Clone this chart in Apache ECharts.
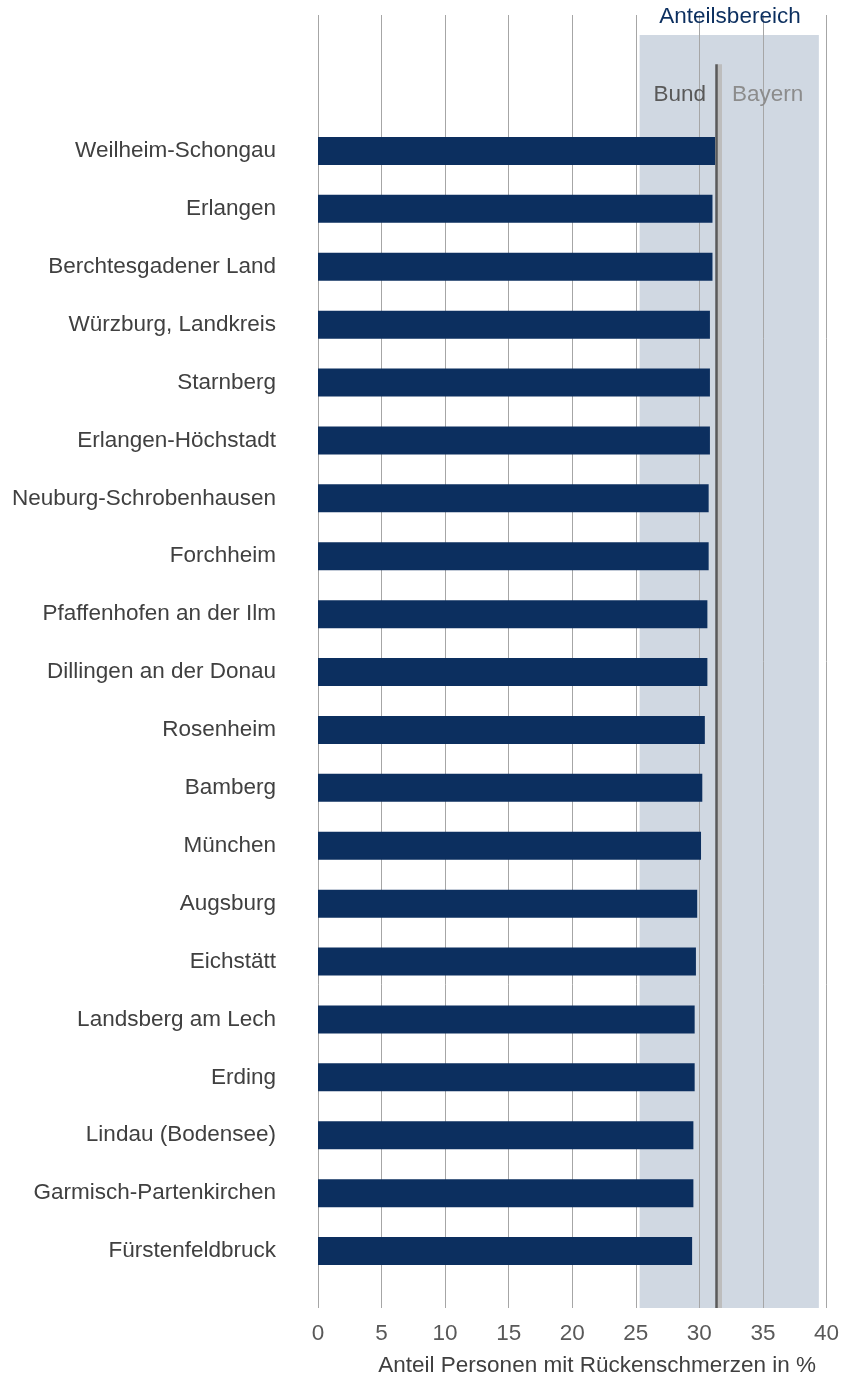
<!DOCTYPE html>
<html>
<head>
<meta charset="utf-8">
<script src="https://cdn.jsdelivr.net/npm/echarts@6/dist/echarts.min.js"></script>
<style>html,body{margin:0;padding:0;background:#fff}#c{width:842px;height:1379px}</style>
</head>
<body>
<div id="c"></div>
<script>
const categories = ["Weilheim-Schongau","Erlangen","Berchtesgadener Land","Würzburg, Landkreis","Starnberg","Erlangen-Höchstadt","Neuburg-Schrobenhausen","Forchheim","Pfaffenhofen an der Ilm","Dillingen an der Donau","Rosenheim","Bamberg","München","Augsburg","Eichstätt","Landsberg am Lech","Erding","Lindau (Bodensee)","Garmisch-Partenkirchen","Fürstenfeldbruck"];
const values = [31.2,31.0,31.0,30.8,30.8,30.8,30.7,30.7,30.6,30.6,30.4,30.2,30.1,29.8,29.7,29.6,29.6,29.5,29.5,29.4];
const rangeBand = [25.3, 39.4];
const bundValue = 31.3;
const bayernValue = 31.6;
const xTicks = [0,5,10,15,20,25,30,35,40];
const axisTitle = "Anteil Personen mit Rückenschmerzen in %";
const bandTitle = "Anteilsbereich";

const FONT = "Liberation Sans, Arial, sans-serif";
const FS = 22.5;
const chart = echarts.init(document.getElementById('c'), null, {renderer:'canvas'});
chart.setOption({
  animation:false,
  backgroundColor:'#fff',
  grid:[
    {left:318, right:15, top:15, bottom:71},
    {left:318, right:15, top:122, bottom:99}
  ],
  xAxis:[
    {gridIndex:0, type:'value', min:xTicks[0], max:xTicks[xTicks.length-1], interval:5, z:3,
     axisLine:{show:false}, axisTick:{show:false},
     axisLabel:{fontFamily:FONT, fontSize:FS, color:'#595959', margin:14},
     splitLine:{show:true, lineStyle:{color:'#a6a6a6', width:1}}},
    {gridIndex:1, type:'value', min:xTicks[0], max:xTicks[xTicks.length-1], show:false}
  ],
  yAxis:[
    {gridIndex:0, type:'value', min:0, max:100, show:false},
    {gridIndex:1, type:'category', data:categories, inverse:true,
     axisLine:{show:false}, axisTick:{show:false},
     axisLabel:{fontFamily:FONT, fontSize:FS, color:'#404040', margin:42, padding:[5,0,0,0]},
     splitLine:{show:false}}
  ],
  series:[
    {type:'line', xAxisIndex:0, yAxisIndex:0, data:[], silent:true, z:1,
     markArea:{silent:true, itemStyle:{color:'#d0d8e2'},
       data:[[{xAxis:rangeBand[0], yAxis:0},{xAxis:rangeBand[1], yAxis:98.45}]]}
    },
    {type:'line', xAxisIndex:0, yAxisIndex:0, data:[], silent:true, z:6,
     markLine:{silent:true, symbol:'none', label:{show:false},
       data:[
         [{xAxis:bayernValue, yAxis:0, lineStyle:{color:'#bdbdbd', width:5, type:'solid'}},{xAxis:bayernValue, yAxis:96.2}],
         [{xAxis:bundValue, yAxis:0, lineStyle:{color:'#5a5a5a', width:2.5, type:'solid'}},{xAxis:bundValue, yAxis:96.2}]
       ]}
    },
    {type:'bar', xAxisIndex:1, yAxisIndex:1, data:values, barWidth:28, z:5,
     itemStyle:{color:'#0c2f5f'}}
  ],
  graphic:[
    {type:'text', z:10, x:730, y:17, style:{text:bandTitle, fill:'#0c2f5f', font:FS+'px '+FONT, textAlign:'center', textVerticalAlign:'middle'}},
    {type:'text', z:10, x:706, y:95, style:{text:'Bund', fill:'#595959', font:FS+'px '+FONT, textAlign:'right', textVerticalAlign:'middle'}},
    {type:'text', z:10, x:732, y:95, style:{text:'Bayern', fill:'#8c8c8c', font:FS+'px '+FONT, textAlign:'left', textVerticalAlign:'middle'}},
    {type:'text', z:10, x:816, y:1366, style:{text:axisTitle, fill:'#404040', font:FS+'px '+FONT, textAlign:'right', textVerticalAlign:'middle'}}
  ]
});
</script>
</body>
</html>
